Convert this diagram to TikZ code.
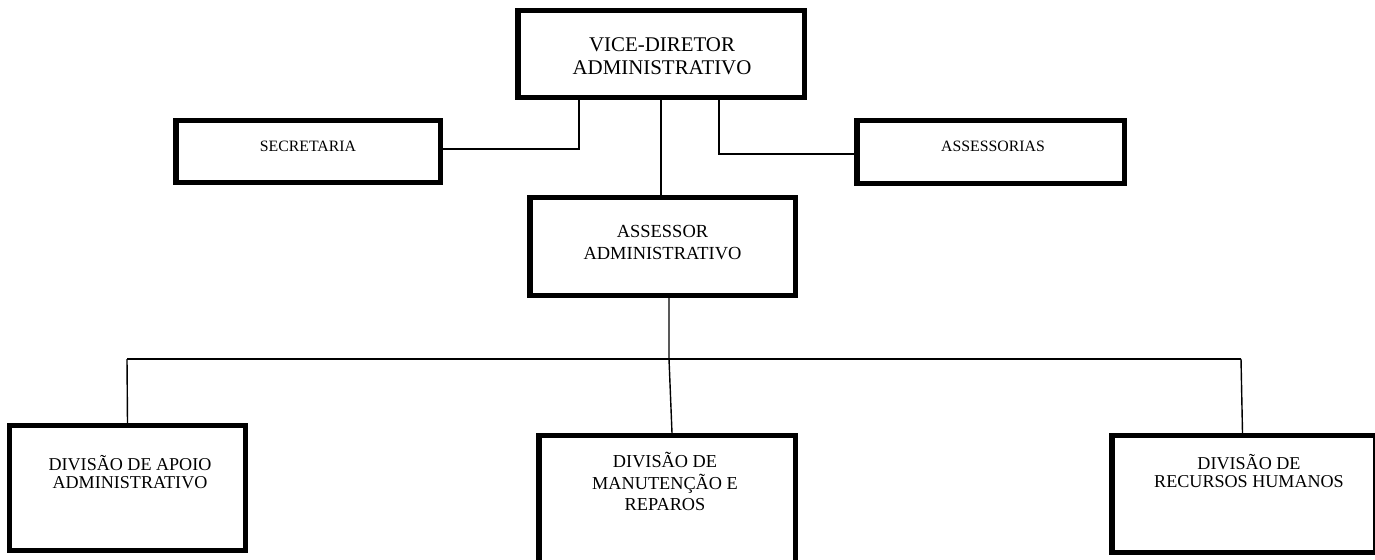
\documentclass[tikz,border=0pt]{standalone}
\usepackage{fontspec}
\setmainfont{Liberation Serif}
\usepackage{tikz}

\begin{document}
\begin{tikzpicture}[x=0.02cm, y=-0.02cm,
    box/.style={draw, line width=3.1pt, rectangle, inner sep=0pt},
    link/.style={line width=0.8pt},
    txt/.style={align=center, inner sep=0pt}]
    \clip (0,0) rectangle (1375,560);

    % Vice-diretor
    \node[box, minimum width=5.73cm, minimum height=1.73cm] (vice) at (661,54) {};
    \node[txt, anchor=north, font=\fontsize{11.9pt}{13.2pt}\selectfont] (vicetxt) at (662,37) {VICE-DIRETOR\\ADMINISTRATIVO};

    % Side boxes
    \node[box, minimum width=5.29cm, minimum height=1.23cm] (secretaria) at (308,151.5) {};
    \node[txt, anchor=base, font=\fontsize{9pt}{10pt}\selectfont] (secretariatxt) at (308,152) {SECRETARIA};
    \node[box, minimum width=5.35cm, minimum height=1.25cm] (assessorias) at (990.5,152) {};
    \node[txt, anchor=base, font=\fontsize{9pt}{10pt}\selectfont] (assessoriastxt) at (993,152) {ASSESSORIAS};

    % Assessor
    \node[box, minimum width=5.31cm, minimum height=1.95cm] (assessor) at (662.5,246.5) {};
    \node[txt, anchor=north, font=\fontsize{10.5pt}{12.6pt}\selectfont] (assessortxt) at (662.5,225) {ASSESSOR\\ADMINISTRATIVO};

    % Divisions
    \node[box, minimum width=4.71cm, minimum height=2.49cm] (apoio) at (127.5,488) {};
    \node[txt, anchor=north, font=\fontsize{10.3pt}{10pt}\selectfont] (apoiotxt) at (130,455) {DIVISÃO DE APOIO\\ADMINISTRATIVO};
    \node[box, minimum width=5.13cm, minimum height=2.53cm] (manut) at (667,499) {};
    \node[txt, anchor=north, font=\fontsize{10.4pt}{12.2pt}\selectfont] (manuttxt) at (665,452) {DIVISÃO DE\\MANUTENÇÃO E\\REPAROS};
    \node[box, minimum width=5.27cm, minimum height=2.33cm] (rh) at (1243.5,494) {};
    \node[txt, anchor=north, font=\fontsize{10.3pt}{10pt}\selectfont] (rhtxt) at (1249,454) {DIVISÃO DE\\RECURSOS HUMANOS};

    % Connectors
    \draw[link] ([xshift=-1.64cm]vice.south) |- ([yshift=0.05cm]secretaria.east);
    \draw[link] ([xshift=1.16cm]vice.south) |- ([yshift=-0.04cm]assessorias.west);
    \draw[link] (vice.south) -- (vice.south |- assessor.north);

    \coordinate (bus) at (669,359);
    \coordinate (busL) at (127,359);
    \coordinate (busR) at (1241,359);
    \draw[link] ([xshift=0.13cm]assessor.south) -- (bus);
    \draw[link] (busL) -- (busR);
    \draw[link] (busL) -- (apoio.north);
    \draw[link] (bus) -- ([xshift=0.1cm]manut.north);
    \draw[link] (busR) -- ([xshift=-0.02cm]rh.north);
\end{tikzpicture}
\end{document}
